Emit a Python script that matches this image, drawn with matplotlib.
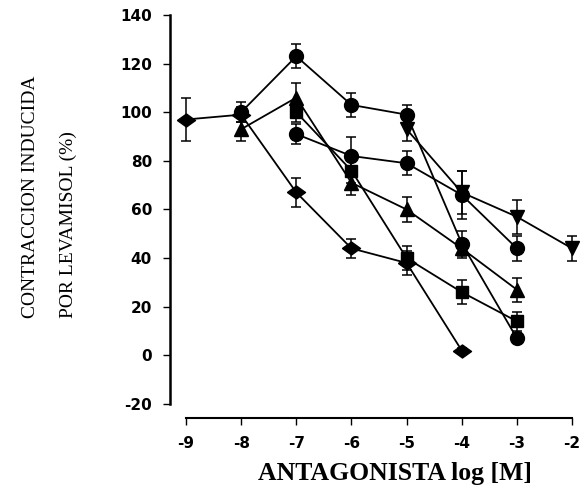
import matplotlib
matplotlib.use("Agg")
import matplotlib.pyplot as plt

##### Data #####
# x is log [M] of antagonist, y is % contraction, err is the error bar half-length
diamond_x = [-9, -8, -7, -6, -5, -4]
diamond_y = [97, 99, 67, 44, 38, 2]
diamond_err = [9, 3, 6, 4, 5, 1]

circle_a_x = [-8, -7, -6, -5, -4, -3]
circle_a_y = [100, 123, 103, 99, 46, 7]
circle_a_err = [4, 5, 5, 4, 5, 2]

triangle_x = [-8, -7, -6, -5, -4, -3]
triangle_y = [93, 106, 71, 60, 44, 27]
triangle_err = [5, 6, 5, 5, 4, 5]

square_x = [-7, -6, -5, -4, -3]
square_y = [100, 76, 40, 26, 14]
square_err = [4, 5, 5, 5, 4]

circle_b_x = [-7, -6, -5, -4, -3]
circle_b_y = [91, 82, 79, 66, 44]
circle_b_err = [4, 8, 5, 10, 5]

invtri_x = [-5, -4, -3, -2]
invtri_y = [93, 67, 57, 44]
invtri_err = [5, 9, 7, 5]

x_ticks = [-9, -8, -7, -6, -5, -4, -3, -2]
y_ticks = [-20, 0, 20, 40, 60, 80, 100, 120, 140]

##### Plot #####
fig = plt.figure(figsize=(5.83, 4.94), dpi=100)
ax = fig.add_axes([0.2916, 0.1538, 0.7038, 0.8258])

# squashed diamond, wider than tall like the original
diamond = [(-1, 0), (0, 0.72), (1, 0), (0, -0.72), (-1, 0)]

series = [
    (diamond_x, diamond_y, diamond_err, diamond, 13),
    (circle_a_x, circle_a_y, circle_a_err, "o", 10),
    (triangle_x, triangle_y, triangle_err, "^", 10.5),
    (square_x, square_y, square_err, "s", 9),
    (circle_b_x, circle_b_y, circle_b_err, "o", 10),
    (invtri_x, invtri_y, invtri_err, "v", 10.5),
]

for xs, ys, errs, mk, ms in series:
    ax.errorbar(
        xs, ys, yerr=errs,
        color="black", marker=mk, markersize=ms,
        linewidth=1.3, elinewidth=1.1, capsize=3.5, capthick=1.1,
    )

ax.set_xlim(-9.29, -1.85)
ax.set_ylim(-25.76, 142)

# detached axes, SigmaPlot style
ax.spines["top"].set_visible(False)
ax.spines["right"].set_visible(False)
ax.spines["left"].set_bounds(-20, 140)
ax.spines["bottom"].set_bounds(-9, -2)
ax.spines["left"].set_linewidth(1.8)
ax.spines["bottom"].set_linewidth(1.5)

ax.set_xticks(x_ticks)
ax.set_yticks(y_ticks)
ax.set_xticklabels([str(v) for v in x_ticks])
ax.set_yticklabels([str(v) for v in y_ticks])
ax.tick_params(axis="both", direction="out", length=5, width=1.0,
               labelsize=11)
ax.tick_params(axis="y", pad=8)
ax.tick_params(axis="x", pad=8)
for lbl in ax.get_xticklabels() + ax.get_yticklabels():
    lbl.set_fontweight("bold")
    lbl.set_fontfamily("DejaVu Sans")

# axis titles (serif, like the scanned figure)
fig.text(0.0515, 0.356, "CONTRACCION INDUCIDA", rotation=90,
         ha="center", va="bottom", fontsize=14, family="Liberation Serif")
fig.text(0.1166, 0.356, "POR LEVAMISOL (%)", rotation=90,
         ha="center", va="bottom", fontsize=14, family="Liberation Serif")
fig.text(0.677, 0.0283, "ANTAGONISTA log [M]", ha="center", va="baseline",
         fontsize=18.5, fontweight="bold", family="Liberation Serif")

fig.savefig("out.png", dpi=100)
